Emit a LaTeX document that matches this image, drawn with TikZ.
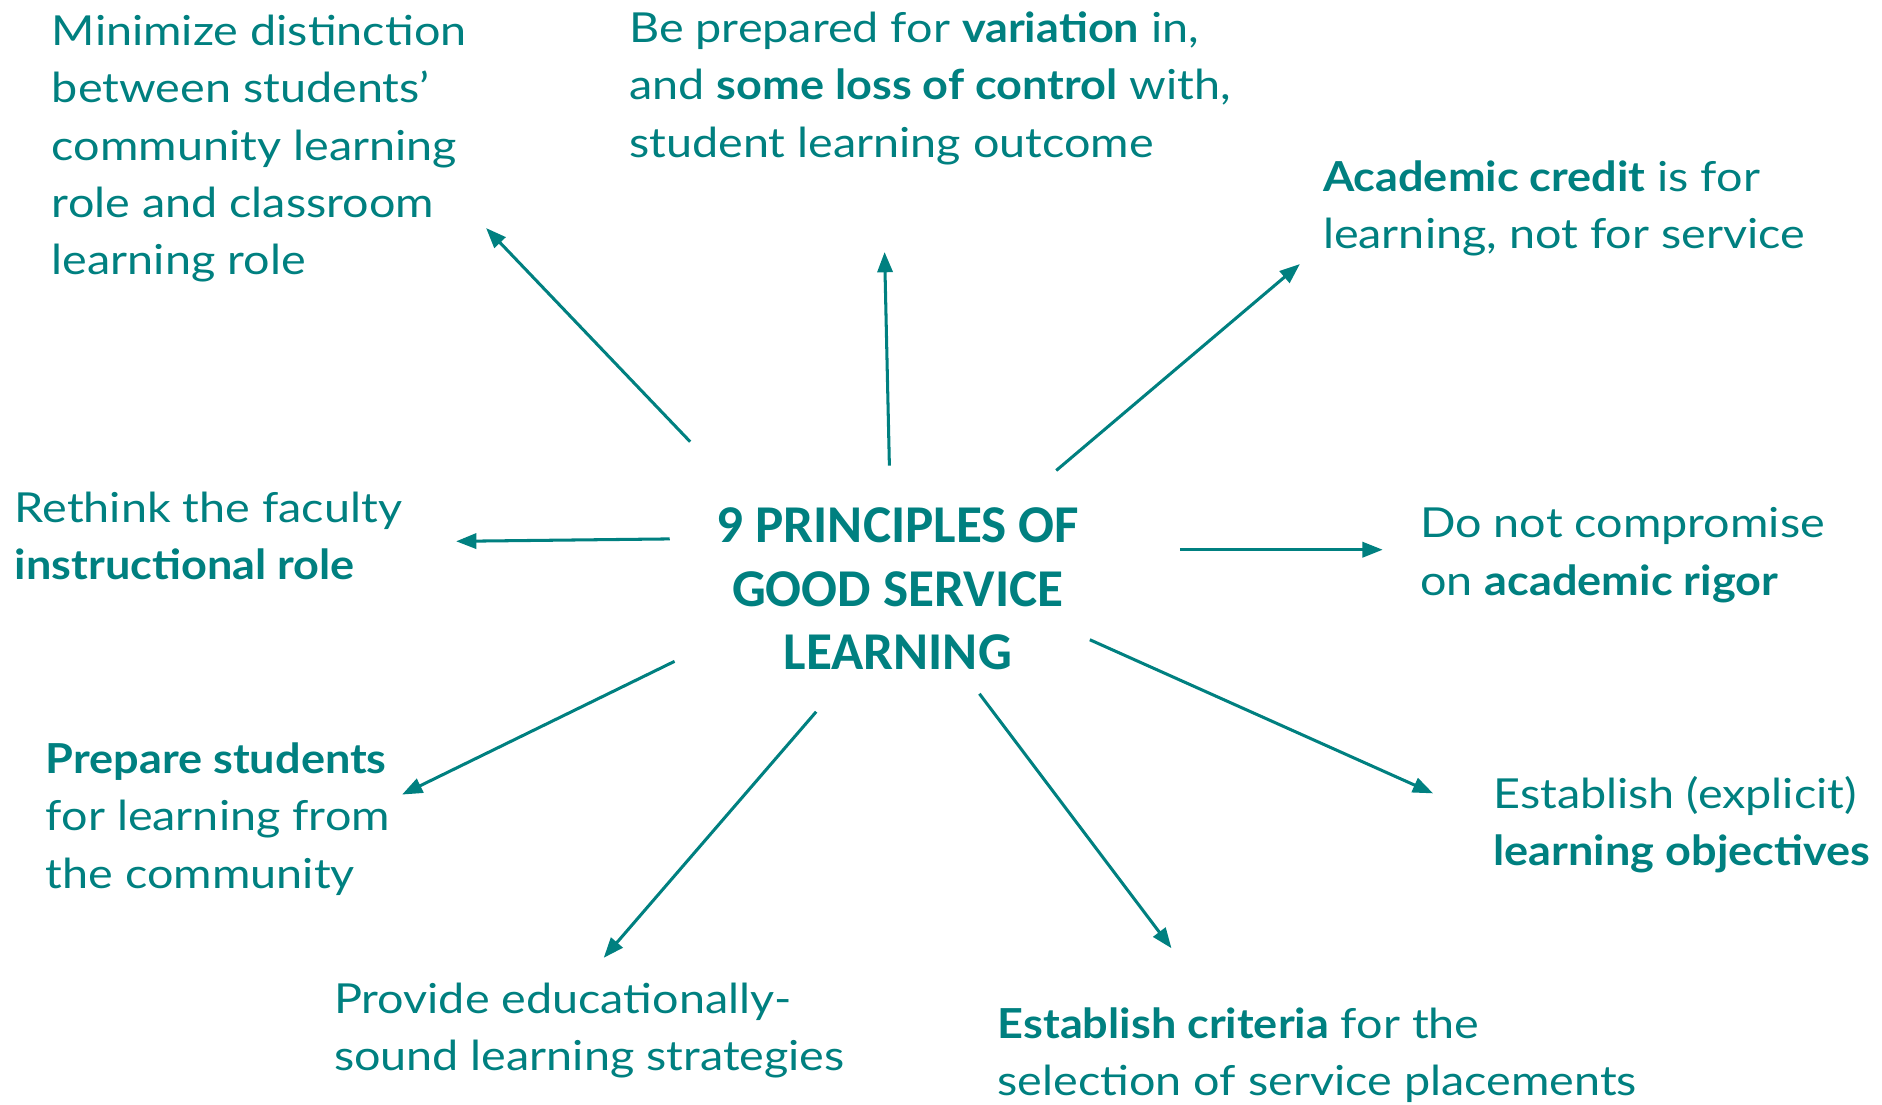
\documentclass[tikz,border=0pt]{standalone}
\usepackage{fontspec}
\setmainfont{Lato}[FakeStretch=1.13, BoldFeatures={FakeStretch=1.09}]
\newfontfamily\titlefont{Carlito}
\usepackage{xcolor}
\usetikzlibrary{arrows.meta}
\definecolor{teal}{RGB}{0,128,128}

\begin{document}
\begin{tikzpicture}[
 x=0.025cm, y=-0.025cm,
 principle/.style={anchor=base west, align=left, inner sep=0pt, text=teal,
   font=\fontsize{24.5}{34}\selectfont},
 hub/.style={anchor=base, align=center, inner sep=0pt, text=teal,
   font=\titlefont\bfseries\fontsize{31.5}{37.6}\selectfont},
 link/.style={draw=teal, line width=1.8pt, -{Triangle[length=12pt, width=9pt]}}
]
 \useasboundingbox (0,0) rectangle (1568,920);

 % Centre (anchored at the baseline of its last line)
 \node[hub] (hub) at (748,558) {9 PRINCIPLES OF\\GOOD SERVICE\\LEARNING};

 % Principles around the centre
 \node[principle] (minimize) at (43,229) {Minimize distinction\\between students’\\community learning\\role and classroom\\learning role};
 \node[principle] (variation) at (524,131) {Be prepared for \textbf{variation} in,\\and \textbf{some loss of control} with,\\student learning outcome};
 \node[principle] (credit) at (1102,207) {\textbf{Academic credit} is for\\learning, not for service};
 \node[principle] (rethink) at (12,483) {Rethink the faculty\\\textbf{instructional role}};
 \node[principle] (rigor) at (1183,496) {Do not compromise\\on \textbf{academic rigor}};
 \node[principle] (prepare) at (38,740) {\textbf{Prepare students}\\for learning from\\the community};
 \node[principle] (provide) at (278,892) {Provide educationally-\\sound learning strategies};
 \node[principle] (criteria) at (831,913) {\textbf{Establish criteria} for the\\selection of service placements};
 \node[principle] (objectives) at (1244,721) {Establish (explicit)\\\textbf{learning objectives}};

 % Arrow ends
 \coordinate (s1) at (575,368); \coordinate (e1) at (405,190);
 \coordinate (s2) at (741,388); \coordinate (e2) at (737,210);
 \coordinate (s3) at (880,392); \coordinate (e3) at (1083,220);
 \coordinate (s4) at (558,449); \coordinate (e4) at (380,451);
 \coordinate (s5) at (983,458); \coordinate (e5) at (1152,458);
 \coordinate (s6) at (562,551); \coordinate (e6) at (335,662);
 \coordinate (s7) at (680,593); \coordinate (e7) at (503,798);
 \coordinate (s8) at (816,578); \coordinate (e8) at (976,790);
 \coordinate (s9) at (908,533); \coordinate (e9) at (1194,661);

 % Arrows
 \foreach \i in {1,...,9}
  \draw[link] (s\i) -- (e\i);
\end{tikzpicture}
\end{document}
